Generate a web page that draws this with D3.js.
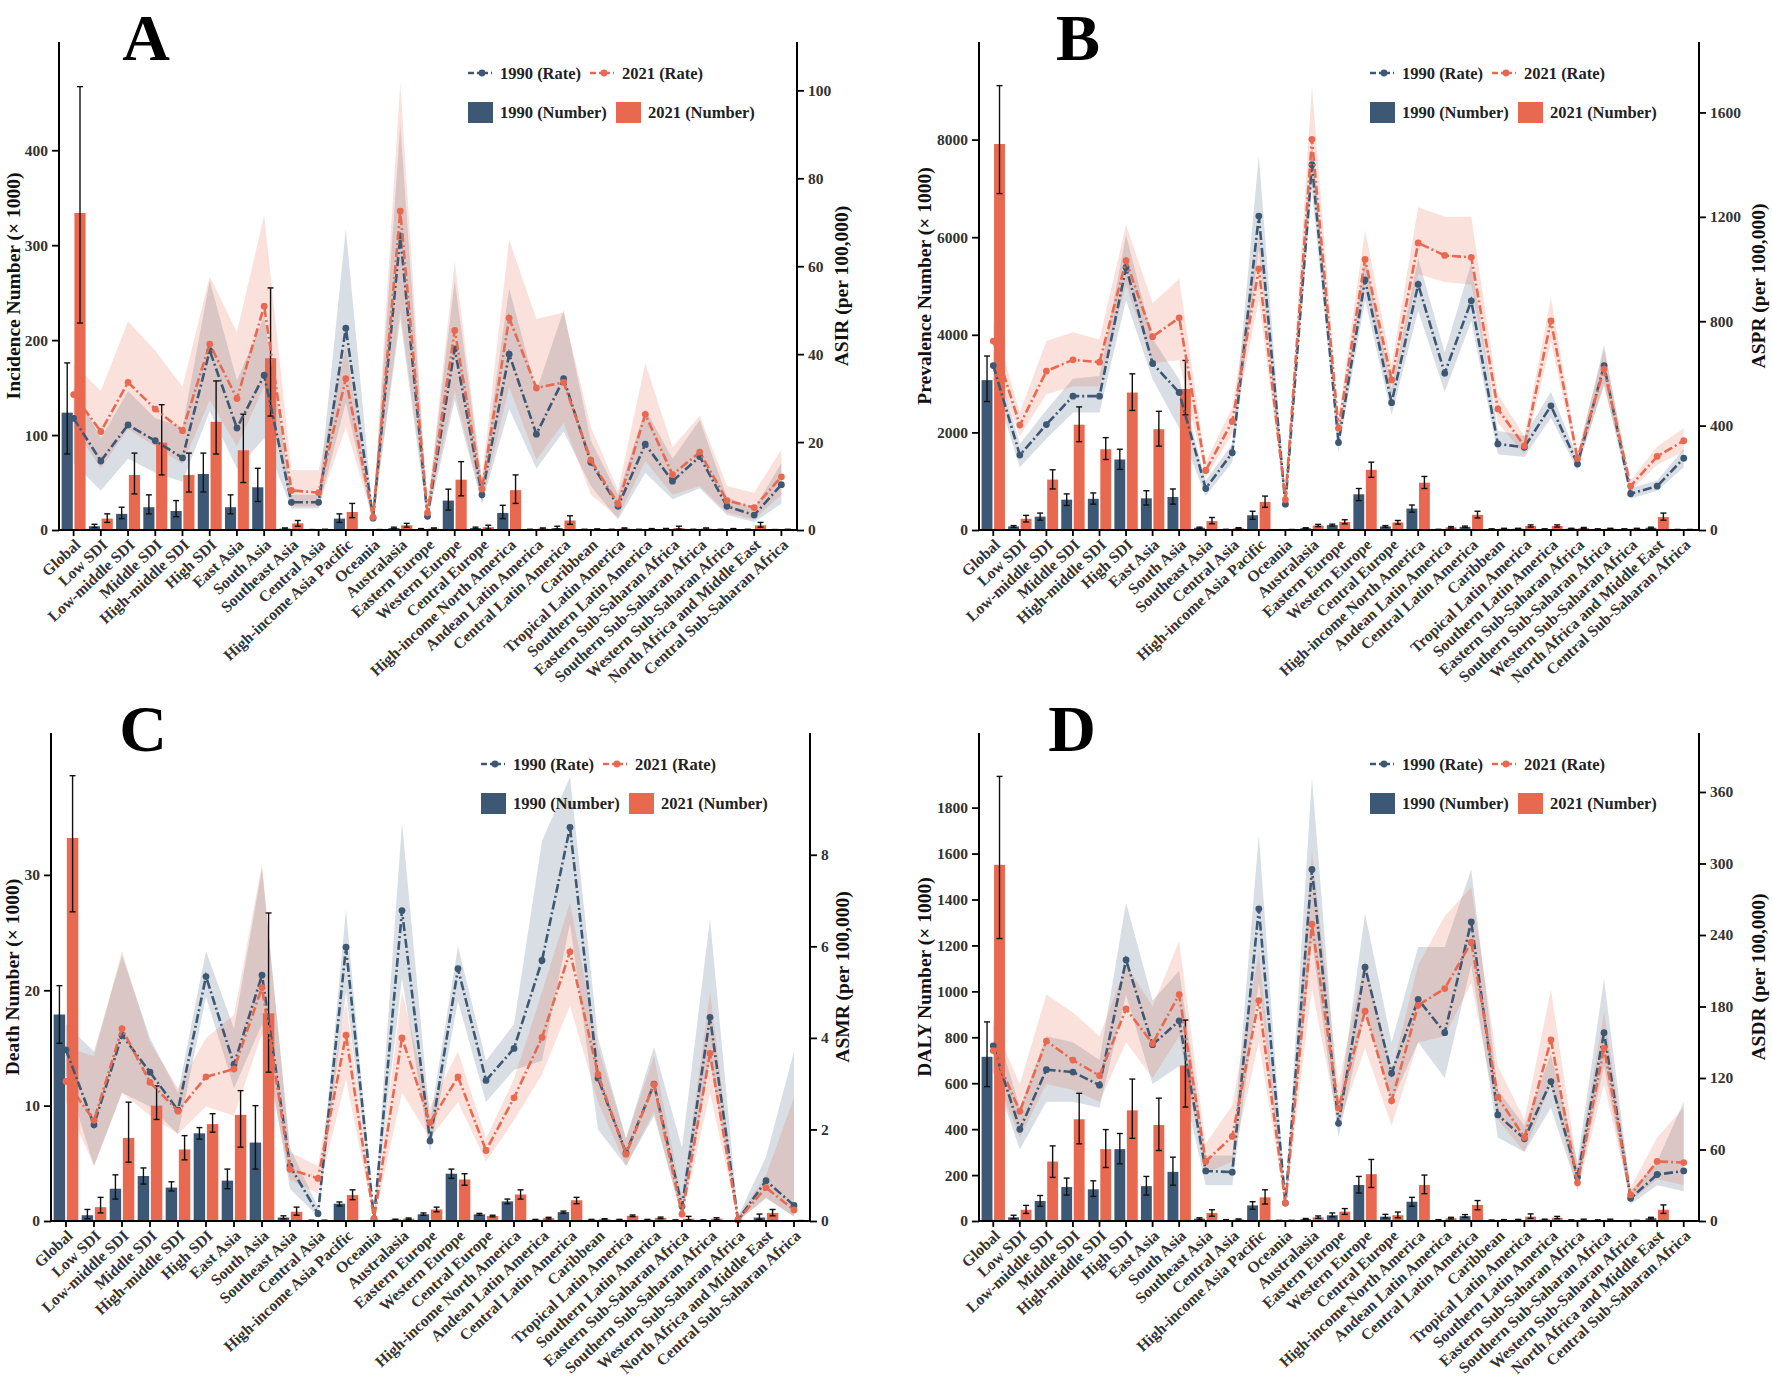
<!DOCTYPE html>
<html lang="en">
<head>
<meta charset="UTF-8"/>
<title>Burden by region, 1990 vs 2021</title>
<script src="https://d3js.org/d3.v7.min.js"></script>
<style>
  body { margin: 0; background: #fff; }
  svg text { font-family: "Liberation Serif", "Times New Roman", serif; font-weight: bold; }
</style>
</head>
<body>
<script>
var regions = ["Global", "Low SDI", "Low-middle SDI", "Middle SDI", "High-middle SDI", "High SDI",
  "East Asia", "South Asia", "Southeast Asia", "Central Asia", "High-income Asia Pacific", "Oceania",
  "Australasia", "Eastern Europe", "Western Europe", "Central Europe", "High-income North America",
  "Andean Latin America", "Central Latin America", "Caribbean", "Tropical Latin America",
  "Southern Latin America", "Eastern Sub-Saharan Africa", "Southern Sub-Saharan Africa",
  "Western Sub-Saharan Africa", "North Africa and Middle East", "Central Sub-Saharan Africa"];

// A: incidence
var incNum1990   = [123.6, 4, 17, 24, 20, 59, 24, 45, 1.5, 0.3, 12, 0.2, 2, 1, 31, 2, 18, 0.5, 2, 0.5, 0.5, 0.5, 1, 0.5, 0.5, 0.5, 0.3];
var incNum1990Lo = [80, 2.5, 12, 17, 14, 40, 17, 30, 1, 0.2, 8, 0.1, 1.3, 0.6, 21, 1.2, 12, 0.3, 1, 0.3, 0.3, 0.3, 0.6, 0.3, 0.3, 0.3, 0.2];
var incNum1990Hi = [176, 6, 24, 37, 31, 81, 37, 65, 2.2, 0.5, 17, 0.3, 3, 1.5, 43, 3, 26, 0.8, 4, 0.8, 0.8, 0.8, 1.6, 0.8, 0.8, 0.8, 0.5];
var incNum2021   = [334, 12, 58, 92, 58, 114, 84, 181, 7, 0.5, 19, 0.3, 5, 1.5, 53, 3, 42, 1.5, 10, 0.8, 1.5, 1, 2, 1.5, 1, 5, 0.5];
var incNum2021Lo = [218, 8, 38, 58, 40, 80, 50, 120, 4, 0.3, 13, 0.2, 3, 1, 36, 1, 28, 1, 6, 0.5, 1, 0.6, 1, 1, 0.6, 3, 0.3];
var incNum2021Hi = [467, 17, 81, 132, 81, 157, 122, 255, 10, 0.8, 28, 0.5, 7, 2.2, 72, 5, 58, 2.2, 15, 1.2, 2.2, 1.5, 4, 2.2, 1.5, 8, 0.8];
var asir1990   = [25.4, 15.7, 23.9, 20.3, 16.4, 40.8, 23.2, 35.2, 6.3, 6.3, 45.9, 2.7, 66.9, 3.1, 41.2, 8.0, 40.0, 21.8, 34.4, 15.4, 5.4, 19.5, 11.1, 16.7, 5.4, 3.4, 10.3];
var asir1990Lo = [15.2, 9, 16.2, 13, 11, 27, 14, 20.8, 4.9, 4.9, 29, 1.8, 48, 2, 29.5, 6, 27.5, 14, 22.4, 10, 2.4, 13, 7, 9.5, 3.4, 1.8, 6];
var asir1990Hi = [32.6, 20.8, 31.6, 25.4, 23.4, 56.7, 34, 48.5, 8, 8, 68.5, 3.5, 92, 4.9, 56.7, 11, 55, 31.6, 50, 20.3, 8, 27.5, 16.2, 25, 7.5, 4.9, 15.2];
var asir2021   = [30.8, 22.4, 33.6, 27.5, 22.6, 42.3, 29.9, 50.9, 9.0, 8.5, 34.4, 2.9, 72.5, 3.9, 45.4, 9.3, 48.2, 32.3, 33.6, 15.9, 5.9, 26.3, 12.6, 17.7, 6.7, 5.1, 12.1];
var asir2021Lo = [23.4, 14, 23, 19, 15, 29.5, 19, 32.6, 5.4, 5.4, 23.4, 2.3, 50, 3.1, 31.6, 6, 32.6, 16, 24.4, 8, 2.9, 15.7, 8, 10, 3.9, 2.4, 8];
var asir2021Hi = [37.7, 31.6, 47.5, 40.8, 32.6, 57.7, 45, 71.6, 13.6, 13.6, 41.8, 3.6, 101.8, 5, 61, 12, 66, 48, 49.5, 23.4, 9, 38, 18.8, 26, 10, 8.5, 18.3];

// B: prevalence
var prvNum1990   = [3072, 73, 274, 622, 640, 1445, 649, 677, 46, 10, 302, 5, 37, 100, 731, 73, 439, 10, 64, 18, 27, 18, 27, 18, 18, 46, 9];
var prvNum1990Lo = [2633, 55, 201, 503, 530, 1243, 512, 530, 35, 7, 219, 3, 28, 80, 603, 55, 366, 7, 50, 12, 20, 12, 20, 12, 12, 35, 6];
var prvNum1990Hi = [3565, 90, 347, 740, 759, 1655, 805, 841, 58, 14, 384, 7, 46, 120, 850, 90, 512, 14, 80, 24, 35, 24, 35, 24, 24, 58, 12];
var prvNum2021   = [7909, 229, 1033, 2158, 1655, 2816, 2066, 2889, 183, 37, 576, 8, 91, 165, 1234, 155, 969, 55, 311, 27, 82, 82, 40, 27, 27, 265, 9];
var prvNum2021Lo = [6894, 165, 841, 1810, 1445, 2450, 1719, 2359, 128, 28, 466, 5, 70, 125, 1079, 120, 850, 40, 247, 20, 60, 60, 30, 20, 20, 201, 6];
var prvNum2021Hi = [9106, 300, 1234, 2523, 1893, 3200, 2432, 3474, 256, 48, 695, 11, 115, 210, 1390, 195, 1097, 70, 384, 35, 105, 105, 52, 35, 35, 347, 12];
var aspr1990   = [630, 287, 404, 513, 513, 1006, 638, 527, 159, 296, 1203, 99, 1400, 335, 958, 488, 941, 601, 878, 330, 317, 476, 253, 630, 139, 168, 275];
var aspr1990Lo = [570, 240, 350, 450, 450, 880, 578, 390, 130, 260, 1080, 85, 1300, 300, 880, 440, 840, 530, 800, 290, 280, 430, 230, 560, 120, 150, 240];
var aspr1990Hi = [690, 330, 460, 580, 590, 1130, 732, 578, 190, 330, 1434, 115, 1500, 370, 1050, 540, 1040, 680, 1023, 380, 360, 530, 280, 710, 160, 190, 310];
var aspr2021   = [724, 402, 609, 652, 643, 1032, 741, 813, 228, 416, 1001, 116, 1497, 390, 1037, 575, 1100, 1052, 1045, 464, 322, 801, 274, 616, 168, 282, 342];
var aspr2021Lo = [650, 360, 520, 550, 550, 940, 640, 650, 200, 370, 880, 100, 1380, 350, 940, 520, 980, 950, 940, 410, 290, 720, 250, 550, 150, 250, 300];
var aspr2021Hi = [800, 450, 724, 758, 730, 1170, 869, 963, 260, 470, 1120, 135, 1700, 430, 1150, 630, 1237, 1200, 1200, 520, 360, 890, 300, 690, 190, 320, 390];

// C: deaths
var dthNum1990   = [17.9, 0.5, 2.8, 3.9, 2.9, 7.6, 3.5, 6.8, 0.3, 0.05, 1.5, 0.02, 0.12, 0.58, 4.1, 0.58, 1.7, 0.1, 0.77, 0.1, 0.1, 0.1, 0.07, 0.07, 0.01, 0.3, 0.02];
var dthNum1990Lo = [15.4, 0.2, 1.9, 3.2, 2.6, 7.1, 2.8, 4.5, 0.2, 0.03, 1.3, 0.01, 0.08, 0.5, 3.7, 0.5, 1.5, 0.06, 0.68, 0.06, 0.06, 0.06, 0.04, 0.04, 0.005, 0.15, 0.01];
var dthNum1990Hi = [20.4, 1.0, 4.0, 4.6, 3.4, 8.1, 4.5, 10.0, 0.45, 0.07, 1.65, 0.03, 0.16, 0.7, 4.5, 0.66, 1.9, 0.14, 0.86, 0.14, 0.14, 0.14, 0.1, 0.1, 0.02, 0.6, 0.03];
var dthNum2021   = [33.2, 1.2, 7.2, 10.0, 6.2, 8.4, 9.2, 18.0, 0.8, 0.05, 2.25, 0.02, 0.2, 1.0, 3.6, 0.43, 2.3, 0.25, 1.8, 0.15, 0.45, 0.27, 0.2, 0.2, 0.02, 0.7, 0.03];
var dthNum2021Lo = [26.8, 0.7, 5.1, 8.8, 5.3, 7.7, 6.4, 12.9, 0.5, 0.03, 1.85, 0.01, 0.15, 0.8, 3.1, 0.36, 1.9, 0.18, 1.5, 0.1, 0.38, 0.2, 0.1, 0.12, 0.01, 0.45, 0.02];
var dthNum2021Hi = [38.6, 2.05, 10.3, 11.7, 7.4, 9.3, 11.3, 26.7, 1.2, 0.07, 2.7, 0.03, 0.26, 1.2, 4.1, 0.5, 2.7, 0.32, 2.05, 0.2, 0.52, 0.34, 0.4, 0.28, 0.03, 1.0, 0.04];
var asmr1990   = [3.74, 2.10, 4.06, 3.25, 2.42, 5.34, 3.42, 5.37, 1.20, 0.16, 5.98, 0.05, 6.78, 1.75, 5.51, 3.07, 3.77, 5.69, 8.60, 3.12, 1.49, 2.99, 0.32, 4.45, 0.02, 0.88, 0.34];
var asmr1990Lo = [3.2, 1.2, 2.8, 2.5, 1.9, 4.9, 2.9, 4.3, 0.7, 0.1, 5.0, 0.0, 5.3, 1.5, 4.8, 2.6, 3.3, 3.5, 6.5, 2.0, 1.2, 2.3, 0.1, 3.5, 0.0, 0.5, 0.1];
var asmr1990Hi = [4.3, 3.7, 5.8, 4.0, 2.8, 5.9, 4.2, 7.7, 1.6, 0.3, 6.8, 0.1, 8.7, 2.2, 6.0, 3.5, 4.3, 8.3, 9.7, 4.0, 1.8, 3.8, 1.6, 6.6, 0.1, 1.4, 3.7];
var asmr2021   = [3.05, 2.20, 4.20, 3.03, 2.40, 3.15, 3.32, 5.10, 1.13, 0.93, 4.06, 0.05, 4.00, 2.15, 3.15, 1.54, 2.69, 4.01, 5.88, 3.20, 1.46, 2.98, 0.15, 3.66, 0.03, 0.73, 0.24];
var asmr2021Lo = [2.6, 1.2, 2.8, 2.3, 1.9, 2.5, 2.3, 4.1, 0.9, 0.6, 3.1, 0.0, 2.8, 1.8, 2.6, 1.3, 2.2, 3.2, 4.7, 2.6, 1.2, 2.4, 0.05, 2.8, 0.0, 0.5, 0.1];
var asmr2021Hi = [3.8, 3.6, 5.9, 3.9, 2.9, 4.0, 4.5, 7.8, 1.5, 1.2, 4.8, 0.1, 5.0, 2.5, 3.7, 1.8, 3.1, 5.0, 6.95, 3.8, 1.8, 3.6, 0.5, 5.0, 0.1, 1.0, 2.7];

// D: DALYs
var dalyNum1990   = [715, 16, 87, 148, 138, 313, 152, 214, 10, 4, 68, 2, 8, 25, 157, 19, 84, 4, 21, 3, 5, 6, 3, 3, 1, 12, 1];
var dalyNum1990Lo = [585, 10, 64, 113, 107, 249, 113, 156, 7, 3, 51, 1, 6, 18, 122, 13, 64, 3, 16, 2, 4, 4, 2, 2, 0.5, 9, 0.5];
var dalyNum1990Hi = [867, 25, 111, 187, 175, 381, 194, 278, 14, 6, 84, 3, 11, 35, 194, 29, 103, 6, 28, 4, 7, 8, 5, 5, 1.5, 16, 1.5];
var dalyNum2021   = [1551, 49, 259, 443, 313, 482, 418, 677, 35, 6, 103, 2, 16, 41, 204, 25, 157, 12, 70, 4, 19, 14, 5, 5, 2, 49, 1];
var dalyNum2021Lo = [1230, 33, 190, 336, 233, 360, 307, 496, 21, 4, 74, 1, 12, 29, 146, 14, 119, 9, 49, 3, 12, 10, 3, 3, 1, 33, 0.5];
var dalyNum2021Hi = [1936, 68, 327, 556, 398, 618, 535, 875, 49, 9, 136, 3, 22, 54, 268, 39, 200, 16, 89, 6, 31, 20, 8, 8, 3, 70, 1.5];
var asdr1990   = [147, 77, 127, 125, 114, 219, 148, 168, 42, 41, 262, 15, 295, 82, 213, 124, 186, 158, 251, 89, 69, 117, 37, 158, 19, 39, 42];
var asdr1990Lo = [125, 60, 100, 100, 95, 190, 115, 130, 30, 30, 200, 12, 235, 70, 175, 100, 150, 120, 215, 70, 58, 95, 27, 130, 14, 30, 25];
var asdr1990Hi = [170, 95, 155, 150, 135, 267, 185, 210, 55, 55, 324, 18, 372, 95, 258, 150, 230, 230, 295, 110, 80, 140, 50, 203, 25, 50, 100];
var asdr2021   = [143, 92, 151, 135, 122, 178, 149, 190, 50, 71, 185, 15, 249, 95, 176, 101, 181, 195, 234, 104, 70, 152, 32, 145, 22, 50, 49];
var asdr2021Lo = [125, 70, 115, 110, 100, 150, 120, 155, 40, 50, 150, 12, 195, 80, 145, 80, 150, 155, 200, 85, 58, 115, 25, 115, 17, 35, 30];
var asdr2021Hi = [165, 115, 190, 175, 155, 215, 180, 235, 65, 97, 225, 18, 310, 115, 220, 125, 215, 256, 280, 130, 85, 194, 45, 175, 28, 70, 95];

var leftTicksA = [0, 100, 200, 300, 400],  rightTicksA = [0, 20, 40, 60, 80, 100];
var leftTicksB = [0, 2000, 4000, 6000, 8000], rightTicksB = [0, 400, 800, 1200, 1600];
var leftTicksC = [0, 10, 20, 30], rightTicksC = [0, 2, 4, 6, 8];
var leftTicksD = [0, 200, 400, 600, 800, 1000, 1200, 1400, 1600, 1800], rightTicksD = [0, 60, 120, 180, 240, 300, 360];

var col90 = "#3d5874", col21 = "#e8694f";
var w = 1772, h = 1393;

var svg = d3.select("body").append("svg")
  .attr("width", w).attr("height", h);

function series(v, lo, hi) { return { v: v, lo: lo, hi: hi }; }

var panels = [
  { letter: "A", L: 59, R: 797, T: 42, B: 530, lMax: 514, rMax: 111, lTicks: leftTicksA, rTicks: rightTicksA,
    lLab: "Incidence Number (× 1000)", rLab: "ASIR (per 100,000)", lLabX: 13, rLabX: 841, letX: 146,
    n90: series(incNum1990, incNum1990Lo, incNum1990Hi), n21: series(incNum2021, incNum2021Lo, incNum2021Hi),
    r90: series(asir1990, asir1990Lo, asir1990Hi), r21: series(asir2021, asir2021Lo, asir2021Hi) },
  { letter: "B", L: 979, R: 1699, T: 42, B: 530, lMax: 10000, rMax: 1870, lTicks: leftTicksB, rTicks: rightTicksB,
    lLab: "Prevalence Number (× 1000)", rLab: "ASPR (per 100,000)", lLabX: 924, rLabX: 1758, letX: 1078,
    n90: series(prvNum1990, prvNum1990Lo, prvNum1990Hi), n21: series(prvNum2021, prvNum2021Lo, prvNum2021Hi),
    r90: series(aspr1990, aspr1990Lo, aspr1990Hi), r21: series(aspr2021, aspr2021Lo, aspr2021Hi) },
  { letter: "C", L: 51, R: 810, T: 733, B: 1221, lMax: 42.3, rMax: 10.66, lTicks: leftTicksC, rTicks: rightTicksC,
    lLab: "Death Number (× 1000)", rLab: "ASMR (per 100,000)", lLabX: 12, rLabX: 842, letX: 143,
    n90: series(dthNum1990, dthNum1990Lo, dthNum1990Hi), n21: series(dthNum2021, dthNum2021Lo, dthNum2021Hi),
    r90: series(asmr1990, asmr1990Lo, asmr1990Hi), r21: series(asmr2021, asmr2021Lo, asmr2021Hi) },
  { letter: "D", L: 979, R: 1699, T: 733, B: 1221, lMax: 2125, rMax: 409.5, lTicks: leftTicksD, rTicks: rightTicksD,
    lLab: "DALY Number (× 1000)", rLab: "ASDR (per 100,000)", lLabX: 924, rLabX: 1758, letX: 1072,
    n90: series(dalyNum1990, dalyNum1990Lo, dalyNum1990Hi), n21: series(dalyNum2021, dalyNum2021Lo, dalyNum2021Hi),
    r90: series(asdr1990, asdr1990Lo, asdr1990Hi), r21: series(asdr2021, asdr2021Lo, asdr2021Hi) }
];

panels.forEach(drawPanel);

function drawPanel(p) {
  var g = svg.append("g");
  var x = d3.scaleBand().domain(regions).range([p.L + 1, p.R - 2]).padding(0);
  var bw = x.bandwidth();
  var cx = function (i) { return x(regions[i]) + bw / 2; };
  var yL = d3.scaleLinear().domain([0, p.lMax]).range([p.B, p.T]);
  var yR = d3.scaleLinear().domain([0, p.rMax]).range([p.B, p.T]);
  var idx = d3.range(regions.length);

  // uncertainty bands for rates
  [[p.r90, col90], [p.r21, col21]].forEach(function (s) {
    var area = d3.area()
      .x(function (i) { return cx(i); })
      .y0(function (i) { return yR(s[0].lo[i]); })
      .y1(function (i) { return yR(s[0].hi[i]); });
    g.append("path").datum(idx).attr("d", area)
      .attr("fill", s[1]).attr("fill-opacity", 0.2);
  });

  // bars
  var barW = bw * 0.41, gap = bw * 0.03;
  [[p.n90, col90, -1], [p.n21, col21, 1]].forEach(function (s) {
    var off = s[2] < 0 ? -gap - barW : gap;
    g.append("g").selectAll("rect").data(idx).enter().append("rect")
      .attr("x", function (i) { return cx(i) + off; })
      .attr("y", function (i) { return yL(s[0].v[i]); })
      .attr("width", barW)
      .attr("height", function (i) { return p.B - yL(s[0].v[i]); })
      .attr("fill", s[1]);
    var eg = g.append("g").attr("stroke", "#111").attr("stroke-width", 1.4);
    idx.forEach(function (i) {
      var ex = cx(i) + off + barW / 2;
      var y0 = yL(s[0].lo[i]), y1 = yL(s[0].hi[i]);
      eg.append("line").attr("x1", ex).attr("x2", ex).attr("y1", y0).attr("y2", y1);
      eg.append("line").attr("x1", ex - 3).attr("x2", ex + 3).attr("y1", y0).attr("y2", y0);
      eg.append("line").attr("x1", ex - 3).attr("x2", ex + 3).attr("y1", y1).attr("y2", y1);
    });
  });

  // rate lines
  [[p.r90, col90], [p.r21, col21]].forEach(function (s) {
    var line = d3.line()
      .x(function (i) { return cx(i); })
      .y(function (i) { return yR(s[0].v[i]); });
    g.append("path").datum(idx).attr("d", line)
      .attr("fill", "none").attr("stroke", s[1]).attr("stroke-width", 2.6)
      .attr("stroke-dasharray", "9,3,2,3");
    g.append("g").selectAll("circle").data(idx).enter().append("circle")
      .attr("cx", function (i) { return cx(i); })
      .attr("cy", function (i) { return yR(s[0].v[i]); })
      .attr("r", 3.4).attr("fill", s[1]);
  });

  // axes
  var fmt = d3.format("d");
  var axL = d3.axisLeft(yL).tickValues(p.lTicks).tickFormat(fmt).tickSize(7).tickPadding(4);
  var axR = d3.axisRight(yR).tickValues(p.rTicks).tickFormat(fmt).tickSize(7).tickPadding(4);
  var axB = d3.axisBottom(x).tickSize(6).tickFormat("");
  [[axL, "translate(" + p.L + ",0)"], [axR, "translate(" + p.R + ",0)"], [axB, "translate(0," + p.B + ")"]]
    .forEach(function (a) {
      var ag = g.append("g").attr("transform", a[1]).call(a[0]);
      ag.select(".domain").remove();
      ag.selectAll(".tick line").attr("stroke", "#000").attr("stroke-width", 1.8);
      ag.selectAll(".tick text").attr("font-size", 15.5).attr("fill", "#333")
        .attr("font-family", "Liberation Serif").attr("font-weight", "bold");
    });
  g.append("line").attr("x1", p.L).attr("x2", p.L).attr("y1", p.T).attr("y2", p.B + 1)
    .attr("stroke", "#000").attr("stroke-width", 2);
  g.append("line").attr("x1", p.R).attr("x2", p.R).attr("y1", p.T).attr("y2", p.B + 1)
    .attr("stroke", "#000").attr("stroke-width", 2);
  g.append("line").attr("x1", p.L).attr("x2", p.R).attr("y1", p.B).attr("y2", p.B)
    .attr("stroke", "#000").attr("stroke-width", 2);

  // category labels
  g.append("g").selectAll("text").data(idx).enter().append("text")
    .attr("transform", function (i) { return "translate(" + (cx(i) + 4) + "," + (p.B + 12) + ") rotate(-43)"; })
    .attr("text-anchor", "end").attr("dy", "0.35em")
    .attr("font-size", 15.8).attr("fill", "#333")
    .text(function (i) { return regions[i]; });

  // axis titles
  g.append("text").attr("transform", "translate(" + p.lLabX + "," + ((p.T + p.B) / 2) + ") rotate(-90)")
    .attr("text-anchor", "middle").attr("dy", "0.35em").attr("font-size", 19.5).attr("fill", "#111").text(p.lLab);
  g.append("text").attr("transform", "translate(" + p.rLabX + "," + ((p.T + p.B) / 2) + ") rotate(-90)")
    .attr("text-anchor", "middle").attr("dy", "0.35em").attr("font-size", 19.5).attr("fill", "#111").text(p.rLab);

  // panel letter
  g.append("text").attr("x", p.letX).attr("y", p.T + 18).attr("text-anchor", "middle")
    .attr("font-size", 66).attr("fill", "#000").text(p.letter);

  // legend
  var lg = g.append("g").attr("transform", "translate(" + p.R + "," + p.T + ")");
  var rowR = 31, rowN = 70;
  [[col90, -329, "1990 (Rate)", -297], [col21, -207, "2021 (Rate)", -175]].forEach(function (it) {
    lg.append("line").attr("x1", it[1]).attr("x2", it[1] + 24).attr("y1", rowR).attr("y2", rowR)
      .attr("stroke", it[0]).attr("stroke-width", 2.6).attr("stroke-dasharray", "6,3,2,3");
    lg.append("circle").attr("cx", it[1] + 14).attr("cy", rowR).attr("r", 3.4).attr("fill", it[0]);
    lg.append("text").attr("x", it[3]).attr("y", rowR).attr("dy", "0.35em")
      .attr("font-size", 16.5).attr("fill", "#222").text(it[2]);
  });
  [[col90, -329, "1990 (Number)", -297], [col21, -181, "2021 (Number)", -149]].forEach(function (it) {
    lg.append("rect").attr("x", it[1]).attr("y", rowN - 10).attr("width", 25).attr("height", 21).attr("fill", it[0]);
    lg.append("text").attr("x", it[3]).attr("y", rowN).attr("dy", "0.35em")
      .attr("font-size", 16.5).attr("fill", "#222").text(it[2]);
  });
}
</script>
</body>
</html>
